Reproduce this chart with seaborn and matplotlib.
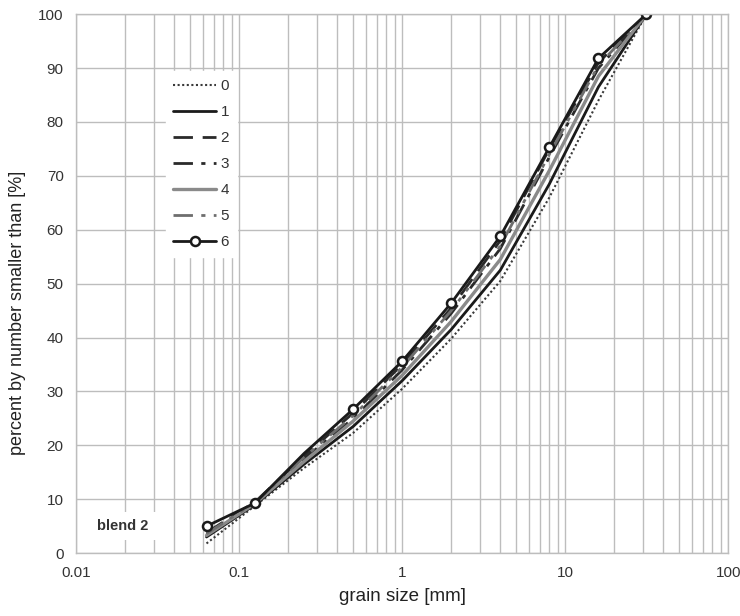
import numpy as np
import pandas as pd
import matplotlib
matplotlib.use("Agg")
import matplotlib.pyplot as plt
import seaborn as sns

# sieve sizes [mm]
grain_size = [0.063, 0.125, 0.25, 0.5, 1, 2, 4, 8, 16, 31.5]

# percent by number smaller than, per blend variant
s0 = [1.8, 8.8, 15.8, 22.3, 30.5, 39.8, 50.5, 66.0, 84.0, 100]
s1 = [3.0, 9.0, 16.5, 23.5, 32.0, 41.5, 52.5, 68.5, 86.5, 100]
s2 = [3.8, 9.5, 18.0, 26.0, 35.0, 45.5, 58.0, 75.0, 91.0, 100]
s3 = [3.5, 9.3, 17.5, 25.0, 34.0, 44.5, 56.5, 73.5, 90.0, 100]
s4 = [3.3, 9.2, 17.0, 24.5, 33.0, 43.0, 54.5, 71.0, 88.5, 100]
s5 = [3.6, 9.4, 17.8, 25.5, 34.5, 45.0, 57.0, 74.0, 90.5, 100]
s6 = [5.0, 9.3, 18.5, 26.7, 35.6, 46.4, 58.8, 75.3, 91.8, 100]

series_names = ["0", "1", "2", "3", "4", "5", "6"]
series_vals = [s0, s1, s2, s3, s4, s5, s6]

x_ticks = [0.01, 0.1, 1, 10, 100]
x_tick_labels = ["0.01", "0.1", "1", "10", "100"]
y_ticks = list(range(0, 101, 10))

sns.set_theme(style="white")
plt.rcParams["font.family"] = ["Liberation Sans", "DejaVu Sans"]

styles = {
    "0": dict(color="#3a3a3a", linestyle=(0, (1, 1.2)), linewidth=1.5),
    "1": dict(color="#1a1a1a", linestyle="-", linewidth=2.0),
    "2": dict(color="#2a2a2a", linestyle=(0, (7, 3.5)), linewidth=2.0),
    "3": dict(color="#2a2a2a", linestyle=(0, (7, 3, 1.5, 3)), linewidth=2.0),
    "4": dict(color="#8a8a8a", linestyle="-", linewidth=2.4),
    "5": dict(color="#6e6e6e", linestyle=(0, (7, 3, 1.5, 3, 1.5, 3)), linewidth=2.0),
    "6": dict(color="#1a1a1a", linestyle="-", linewidth=2.0, marker="o",
              markersize=6.5, markerfacecolor="white", markeredgecolor="#1a1a1a",
              markeredgewidth=1.8, markevery=[0, 1, 3, 4, 5, 6, 7, 8, 9]),
}

fig = plt.figure(figsize=(7.4, 6.16), dpi=100)
ax = fig.add_axes([0.103, 0.102, 0.881, 0.875])

for name, vals in zip(series_names, series_vals):
    df = pd.DataFrame({"size": grain_size, "pct": vals})
    sns.lineplot(data=df, x="size", y="pct", ax=ax, label=name, **styles[name])

ax.set_xscale("log")
ax.set_xlim(0.01, 100)
ax.set_ylim(0, 100)
ax.set_xticks(x_ticks)
ax.set_xticklabels(x_tick_labels)
ax.set_yticks(y_ticks)

grid_col = "#bdbdbd"
ax.grid(True, which="major", color=grid_col, linewidth=1.0)
ax.grid(True, which="minor", axis="x", color=grid_col, linewidth=1.0)
ax.set_axisbelow(True)
for sp in ax.spines.values():
    sp.set_color(grid_col)
    sp.set_linewidth(1.0)
ax.tick_params(axis="both", which="major", direction="out", length=5,
               color="#888888", labelsize=11, labelcolor="#333333", pad=4)
ax.tick_params(axis="x", which="minor", length=0)

ax.set_xlabel("grain size [mm]", fontsize=13.5, color="#222222", labelpad=6)
ax.set_ylabel("percent by number smaller than [%]", fontsize=13, color="#222222")
ax.yaxis.set_label_coords(-0.077, 0.445)

leg = ax.legend(loc="upper left", bbox_to_anchor=(0.137, 0.894), frameon=True,
                fancybox=False, edgecolor="white", framealpha=1.0, fontsize=11,
                handlelength=2.8, handletextpad=0.3, labelspacing=0.79,
                borderpad=0.5, borderaxespad=0)
for t in leg.get_texts():
    t.set_color("#333333")

ax.text(0.0135, 5.0, "blend 2", fontsize=10.5, fontweight="bold", color="#333333",
        va="center", ha="left",
        bbox=dict(facecolor="white", edgecolor="none", pad=5))

fig.savefig("out.png", dpi=100)
